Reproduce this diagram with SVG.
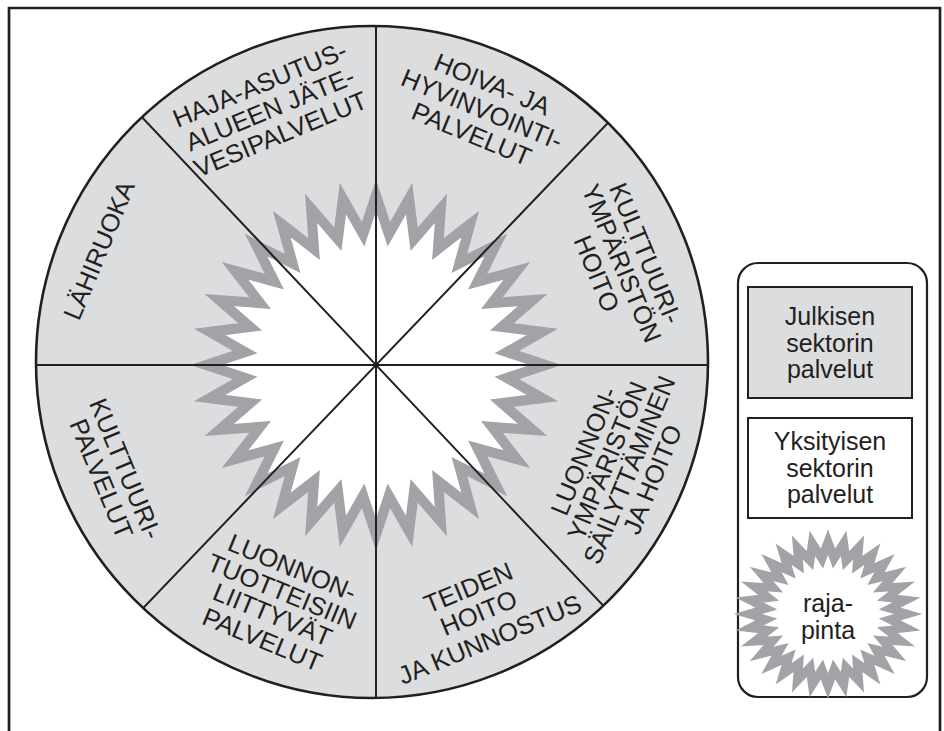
<svg xmlns="http://www.w3.org/2000/svg" width="944" height="731" viewBox="0 0 944 731">
<style>
.t{font-family:"Liberation Sans","DejaVu Sans",sans-serif;font-size:25.5px;fill:#231f20;text-anchor:middle}
.lg{font-family:"Liberation Sans","DejaVu Sans",sans-serif;font-size:25px;fill:#231f20;text-anchor:middle}
.div{stroke:#231f20;stroke-width:2;fill:none}
</style>
<defs>
<clipPath id="cc"><circle cx="372" cy="362" r="336"/></clipPath>
<polygon id="star" points="160,0 123.40,-12.15 156.93,-31.21 118.66,-35.99 147.82,-61.23 109.36,-58.45 133.04,-88.89 95.85,-78.66 113.14,-113.14 78.66,-95.85 88.89,-133.04 58.45,-109.36 61.23,-147.82 35.99,-118.66 31.21,-156.93 12.15,-123.40 0,-160 -12.15,-123.40 -31.21,-156.93 -35.99,-118.66 -61.23,-147.82 -58.45,-109.36 -88.89,-133.04 -78.66,-95.85 -113.14,-113.14 -95.85,-78.66 -133.04,-88.89 -109.36,-58.45 -147.82,-61.23 -118.66,-35.99 -156.93,-31.21 -123.40,-12.15 -160,0 -123.40,12.15 -156.93,31.21 -118.66,35.99 -147.82,61.23 -109.36,58.45 -133.04,88.89 -95.85,78.66 -113.14,113.14 -78.66,95.85 -88.89,133.04 -58.45,109.36 -61.23,147.82 -35.99,118.66 -31.21,156.93 -12.15,123.40 0,160 12.15,123.40 31.21,156.93 35.99,118.66 61.23,147.82 58.45,109.36 88.89,133.04 78.66,95.85 113.14,113.14 95.85,78.66 133.04,88.89 109.36,58.45 147.82,61.23 118.66,35.99 156.93,31.21 123.40,12.15" fill="#ffffff" stroke="#a2a3a7" stroke-linejoin="miter" stroke-miterlimit="20"/>
</defs>
<rect x="0" y="0" width="944" height="731" fill="#ffffff"/>
<path d="M9,740 V8 H940 V740" fill="none" stroke="#231f20" stroke-width="2.7"/>

<g id="wheel">
<circle cx="372" cy="362" r="336" fill="#dcdddf"/>
<use href="#star" transform="translate(376,365) scale(1.06)" stroke-width="9.5"/>
</g>

<g id="connectors" clip-path="url(#cc)">
<line class="div" x1="376" y1="0" x2="376" y2="731"/>
<line class="div" x1="0" y1="365" x2="740" y2="365"/>
<line class="div" x1="-24" y1="-58.6" x2="776" y2="788.6"/>
<line class="div" x1="-24" y1="782.6" x2="776" y2="-52.6"/>
</g>
<circle cx="372" cy="362" r="336" fill="none" stroke="#231f20" stroke-width="2.6"/>

<g id="s-haja" transform="translate(376,365) rotate(-22.5)">
<text class="t" x="0" y="-295">HAJA-ASUTUS-</text>
<text class="t" x="0" y="-268">ALUEEN JÄTE-</text>
<text class="t" x="0" y="-241">VESIPALVELUT</text>
</g>
<g id="s-hoiva" transform="translate(376,365) rotate(22.5)">
<text class="t" x="0" y="-295">HOIVA- JA</text>
<text class="t" x="0" y="-268">HYVINVOINTI-</text>
<text class="t" x="0" y="-241">PALVELUT</text>
</g>
<g id="s-kulttuuriymp" transform="translate(376,365) rotate(67.5)">
<text class="t" x="0" y="-283">KULTTUURI-</text>
<text class="t" x="0" y="-257">YMPÄRISTÖN</text>
<text class="t" x="0" y="-230">HOITO</text>
</g>
<g id="s-luonnonymp" transform="translate(376,365) rotate(-67.5)">
<text class="t" x="0" y="234">LUONNON-</text>
<text class="t" x="0" y="259">YMPÄRISTÖN</text>
<text class="t" x="0" y="283">SÄILYTTÄMINEN</text>
<text class="t" x="0" y="308">JA HOITO</text>
</g>
<g id="s-teiden" transform="translate(376,365) rotate(-22.5)">
<text class="t" x="0" y="250">TEIDEN</text>
<text class="t" x="0" y="277">HOITO</text>
<text class="t" x="0" y="306">JA KUNNOSTUS</text>
</g>
<g id="s-luonnontuot" transform="translate(376,365) rotate(22.5)">
<text class="t" x="0" y="228">LUONNON-</text>
<text class="t" x="0" y="254">TUOTTEISIIN</text>
<text class="t" x="0" y="279">LIITTYVÄT</text>
<text class="t" x="0" y="306">PALVELUT</text>
</g>
<g id="s-kulttuuripalv" transform="translate(376,365) rotate(67.5)">
<text class="t" x="0" y="280">KULTTUURI-</text>
<text class="t" x="0" y="306">PALVELUT</text>
</g>
<g id="s-lahiruoka" transform="translate(376,365) rotate(-67.5)">
<text class="t" x="0" y="-291">LÄHIRUOKA</text>
</g>

<g id="legend">
<rect x="738" y="263" width="189" height="434" rx="20" fill="#ffffff" stroke="#231f20" stroke-width="2.2"/>
<g id="lg-julkinen">
<rect x="748" y="287" width="164" height="111" fill="#dcdddf" stroke="#231f20" stroke-width="2"/>
<text class="lg" x="830" y="325">Julkisen</text>
<text class="lg" x="830" y="352">sektorin</text>
<text class="lg" x="830" y="378">palvelut</text>
</g>
<g id="lg-yksityinen">
<rect x="748" y="418" width="164" height="100" fill="#ffffff" stroke="#231f20" stroke-width="2"/>
<text class="lg" x="830" y="450">Yksityisen</text>
<text class="lg" x="830" y="477">sektorin</text>
<text class="lg" x="830" y="503">palvelut</text>
</g>
<g id="lg-rajapinta">
<use href="#star" transform="translate(828,614) scale(0.5,0.45)" stroke-width="18"/>
<text class="lg" x="828" y="612">raja-</text>
<text class="lg" x="828" y="639">pinta</text>
</g>
</g>
</svg>
